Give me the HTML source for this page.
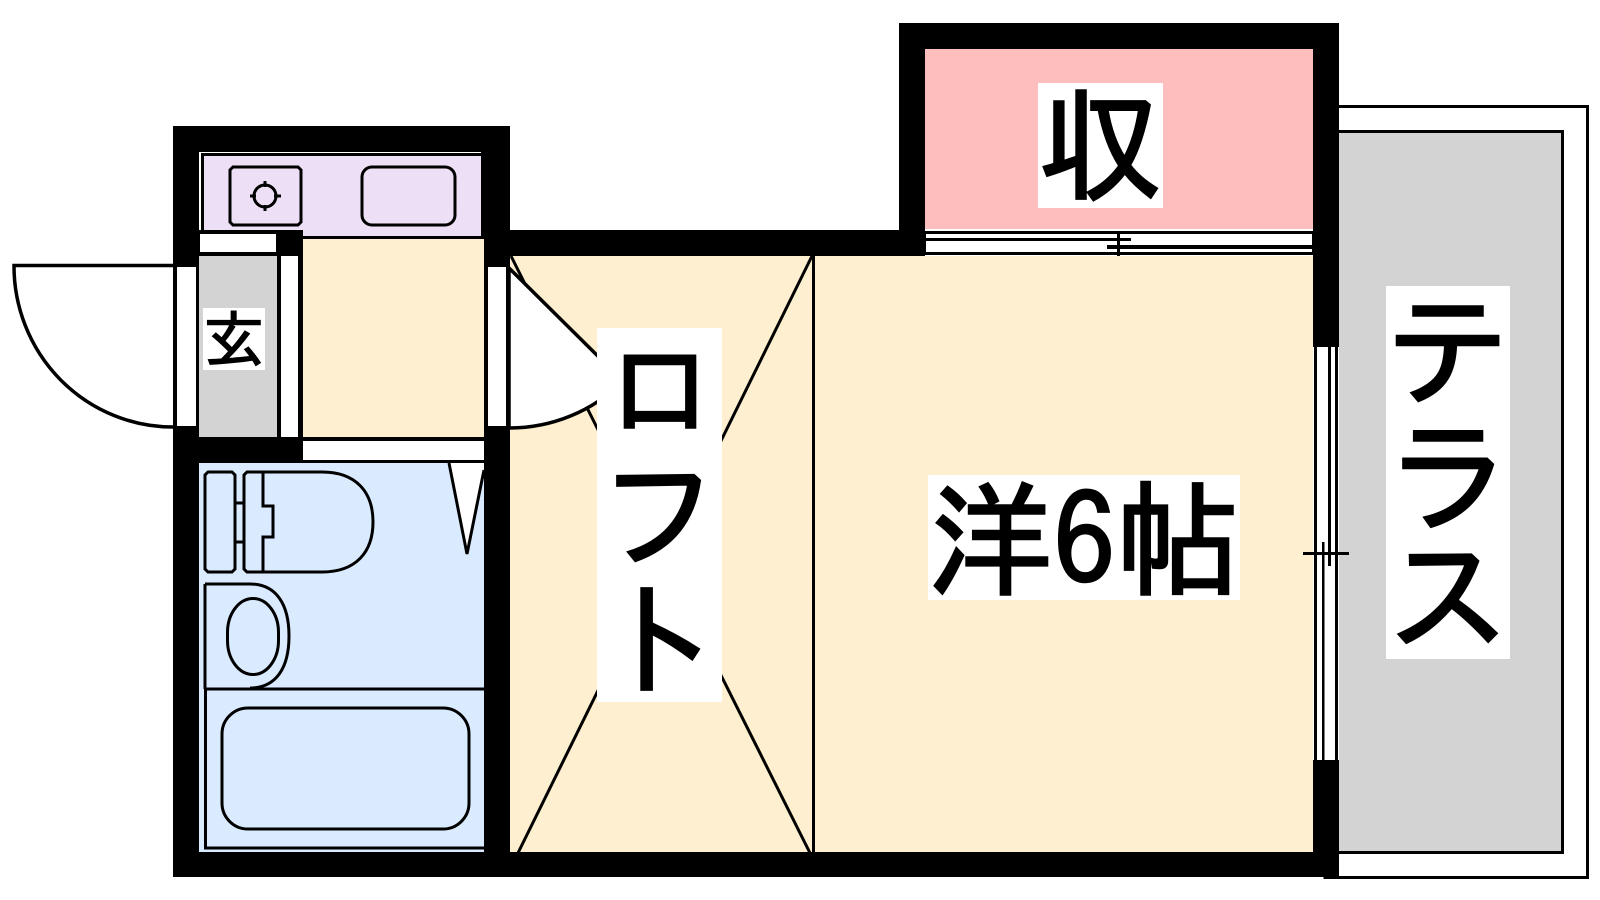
<!DOCTYPE html>
<html lang="ja">
<head>
<meta charset="utf-8">
<title>間取り図</title>
<style>
html,body{margin:0;padding:0;background:#fff;width:1600px;height:900px;overflow:hidden}
svg{display:block}
text{font-family:"IPAGothic","Noto Sans CJK JP",sans-serif;fill:#000;stroke:#000;stroke-width:2.5px;stroke-linejoin:miter}
</style>
</head>
<body>
<svg width="1600" height="900" viewBox="0 0 1600 900" xmlns="http://www.w3.org/2000/svg">
<rect width="1600" height="900" fill="#fff"/>

<!-- terrace -->
<rect x="1325" y="106.500" width="262.500" height="771" fill="#fff" stroke="#000" stroke-width="3"/>
<rect x="1325" y="131.500" width="237.500" height="721" fill="#d3d3d3" stroke="#000" stroke-width="3"/>

<!-- floors -->
<rect x="510" y="256" width="803" height="597" fill="#fdefcf"/>
<rect x="303" y="239" width="181" height="198" fill="#fdefcf"/>
<rect x="925" y="49" width="388" height="180" fill="#ffbebe"/>
<rect x="199" y="463" width="285" height="389" fill="#daebff"/>
<rect x="204" y="156" width="277" height="80" fill="#eddff5"/>
<rect x="199" y="256" width="78" height="181" fill="#d3d3d3"/>

<!-- walls -->
<g fill="#000">
<rect x="173" y="126" width="337" height="26"/>
<rect x="173" y="126" width="26" height="141"/>
<rect x="173" y="426" width="26" height="451"/>
<rect x="484" y="126" width="26" height="141"/>
<rect x="481" y="152" width="3" height="84"/>
<rect x="484" y="426" width="26" height="451"/>
<rect x="173" y="437" width="130" height="26"/>
<rect x="173" y="852" width="1166" height="25"/>
<rect x="484" y="230" width="441" height="26"/>
<rect x="899" y="23" width="26" height="233"/>
<rect x="899" y="23" width="440" height="26"/>
<rect x="1313" y="23" width="26" height="324"/>
<rect x="1313" y="760" width="26" height="117"/>
<rect x="303" y="236" width="181" height="3"/>
<rect x="199" y="230" width="104" height="26"/>
<rect x="201" y="153" width="280" height="3"/>
<rect x="201" y="153" width="3" height="77"/>
<rect x="303" y="437" width="181" height="4"/>
<rect x="303" y="460" width="181" height="3"/>
</g>
<rect x="200" y="234" width="76" height="18" fill="#fff"/>
<rect x="304" y="441" width="179" height="19" fill="#fff"/>

<!-- genkan partition -->
<rect x="277" y="256" width="26" height="181" fill="#000"/>
<rect x="281" y="256" width="17" height="181" fill="#fff"/>

<!-- entrance door opening -->
<rect x="173" y="267" width="26" height="159" fill="#000"/>
<rect x="177" y="267" width="19" height="159" fill="#fff"/>
<path d="M173 265.500H14A159 161 0 0 0 173 427" fill="#fff" stroke="#000" stroke-width="3.500"/>

<!-- loft diagonals -->
<g stroke="#000" stroke-width="3" fill="none">
<line x1="511" y1="256" x2="811" y2="855"/>
<line x1="812" y1="256" x2="517" y2="855"/>
<line x1="813.500" y1="256" x2="813.500" y2="852"/>
</g>

<!-- inner door -->
<rect x="484" y="267" width="26" height="159" fill="#000"/>
<rect x="488" y="267" width="18" height="159" fill="#fff"/>
<path d="M509 268L623 381A160 160 0 0 1 509 428Z" fill="#fff" stroke="#000" stroke-width="3.500"/>

<!-- closet window -->
<rect x="925" y="231" width="388" height="25" fill="#000"/>
<rect x="925" y="229" width="388" height="2" fill="#fff"/>
<rect x="926" y="234" width="386" height="18" fill="#fff"/>
<rect x="925" y="255" width="388" height="1" fill="#fff"/>
<rect x="926" y="238" width="205" height="3" fill="#000"/>
<rect x="1107" y="245" width="205" height="4" fill="#000"/>
<rect x="1117" y="234" width="3" height="22" fill="#000"/>

<!-- terrace window -->
<rect x="1313" y="347" width="26" height="413" fill="#fff"/>
<g fill="#000">
<rect x="1314" y="347" width="3" height="413"/>
<rect x="1322" y="542" width="2.500" height="218"/>
<rect x="1328" y="347" width="3" height="219"/>
<rect x="1335" y="347" width="3" height="413"/>
<rect x="1303" y="552" width="46" height="3"/>
</g>

<!-- kitchen -->
<g fill="none" stroke="#000" stroke-width="3">
<path d="M233 167H298L301 170V222L298 225H233L230 222V170Z"/>
<rect x="362" y="167" width="93" height="58" rx="10"/>
<circle cx="265" cy="196" r="11"/>
<path d="M250 196h6M274 196h7M265 181v6M265 205v6"/>
</g>

<!-- bathroom fixtures -->
<g fill="none" stroke="#000" stroke-width="3">
<path d="M208 472H232L235 475V569L232 572H208L205 569V475Z"/>
<path d="M236 503H243M236 542H243"/>
<path d="M247 472H322C356 472 373 492 373 522C373 552 356 572 322 572H247L244 569V475Z"/>
<path d="M263 472V506H273V537H263V572"/>
<path d="M205 584H250C276 584 289 604 289 636C289 668 276 688 250 688"/>
<path d="M205 584V689"/>
<rect x="227.500" y="598.500" width="51" height="76" rx="25.500" ry="34"/>
<path d="M205 689H484"/>
<path d="M205.500 689V848H484"/>
<rect x="222" y="708" width="247" height="121" rx="26"/>
</g>
<path d="M449 463L467 554L484 470V463Z" fill="#fff"/>
<path d="M449 463L467 554L484 470" fill="none" stroke="#000" stroke-width="3"/>

<!-- labels -->
<g fill="#fff">
<rect x="1038" y="83" width="125" height="125"/>
<rect x="203" y="308" width="62" height="62"/>
<rect x="597" y="328" width="125" height="374"/>
<rect x="928" y="475" width="312" height="125"/>
<rect x="1386" y="286" width="124" height="373"/>
</g>
<text x="1038" y="191" font-size="125">収</text>
<text x="203" y="362" font-size="62" style="stroke-width:1.2px">玄</text>
<text x="597" y="436" font-size="125" transform="translate(660 355) scale(.88 .9) translate(-659.500 -352)">ロ</text>
<text x="597" y="559" font-size="125">フ</text>
<text x="597" y="686" font-size="125">ト</text>
<text x="928" y="586" font-size="125">洋6帖</text>
<text x="1386" y="396" font-size="125">テ</text>
<text x="1386" y="521" font-size="125">ラ</text>
<text x="1386" y="642" font-size="125">ス</text>
</svg>
</body>
</html>
